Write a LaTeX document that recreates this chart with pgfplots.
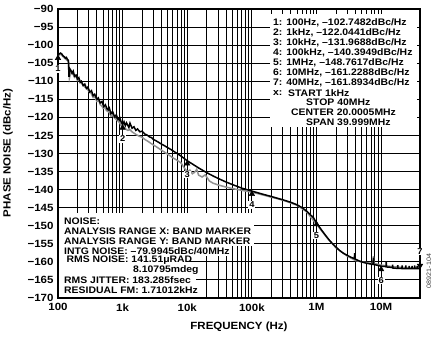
\documentclass[border=0pt]{standalone}
\usepackage{fontspec}
\setmainfont{Liberation Sans}[FakeStretch=1.1]
\usepackage{pgfplots}
\pgfplotsset{compat=1.18}
\definecolor{tracegray}{RGB}{145,145,145}
\newcommand\bx{\fontsize{9.5}{10}\selectfont\bfseries}
\begin{document}
\begin{tikzpicture}[x=1bp,y=1bp]
\useasboundingbox (0,0) rectangle (436,340);
\begin{axis}[
  at={(58bp,42bp)}, anchor=south west, scale only axis,
  width=362bp, height=289bp,
  xmode=log, xmin=100, xmax=4e7, ymin=-170, ymax=-90,
  xtick={100,1000,10000,100000,1000000,10000000},
  xticklabels={100,1k,10k,100k,1M,10M},
  ytick={-170,-165,-160,-155,-150,-145,-140,-135,-130,-125,-120,-115,-110,-105,-100,-95,-90},
  yticklabels={−170,−165,−160,−155,−150,−145,−140,−135,−130,−125,−120,−115,−110,−105,−100,−95,−90},
  grid=both,
  major grid style={black, line width=0.95bp},
  minor grid style={black, line width=0.85bp},
  tick style={draw=none},
  axis line style={black, line width=1.5bp},
  ticklabel style={font=\fontsize{10.5}{12}\selectfont\bfseries},
  yticklabel style={xshift=-1bp},
  xticklabel style={yshift=-2bp},
  clip=false,
]
% gray trace
\addplot[tracegray, line width=1.5bp] coordinates {
(100,-102.9) (110,-102.5) (120,-103.2) (130,-103.8) (145,-104.5) (150,-109.2) (160,-107.2)
(170,-108.0) (180,-108.9) (190,-108.4) (200,-109.8) (215,-109.6) (230,-110.6) (245,-110.9) (260,-111.6)
(280,-111.9) (300,-112.8) (320,-113.1) (350,-114.5) (370,-114.2) (400,-115.6) (430,-115.4) (450,-116.5)
(480,-116.9) (500,-117.5) (530,-117.2) (560,-118.1) (620,-118.6) (660,-119.7) (700,-119.4) (750,-120.2)
(800,-120.6) (850,-121.0) (900,-121.5) (950,-122.3) (1000,-122.9) (1100,-123.1) (1200,-123.6)
(1300,-123.4) (1400,-124.0) (1600,-124.7) (1800,-125.2) (2000,-125.5) (2200,-126.1) (2400,-126.5)
(2800,-127.3) (3300,-128.1) (4000,-129.1) (5000,-130.2) (6000,-131.2) (7000,-131.9) (8000,-132.6)
(9000,-134.0) (10000,-135.0) (11000,-134.6) (12000,-135.6) (13000,-135.2) (14000,-134.4) (15000,-136.0)
(17000,-136.5) (19000,-135.9) (22000,-137.6) (25000,-138.2) (30000,-138.7) (40000,-139.3) (50000,-139.7)
(70000,-140.2) (100000,-140.7) (150000,-141.5) (200000,-142.1) (300000,-142.9) (500000,-144.3)
(700000,-146.1) (1000000,-149.6) (1500000,-153.6) (2000000,-156.1) (3000000,-158.4) (4000000,-159.6)
(5000000,-160.0) (7000000,-160.4) (7500000,-160.4) (7600000,-158.4) (7750000,-160.4) (10000000,-160.9)
(15000000,-161.3) (20000000,-161.5) (30000000,-161.6) (40000000,-161.7)
};
% black trace
\addplot[black, line width=1.5bp] coordinates {
(100,-102.7) (105,-102.4) (110,-102.2) (115,-102.5) (120,-103.0) (125,-103.2) (130,-103.6) (135,-103.4)
(140,-104.0) (145,-104.2) (148,-108.8) (152,-106.5) (158,-107.0) (165,-107.8) (172,-107.2) (180,-108.6)
(190,-108.3) (200,-109.4) (210,-109.0) (220,-110.3) (230,-110.0) (245,-111.2) (260,-110.8) (275,-112.0)
(290,-111.6) (310,-113.0) (330,-112.6) (350,-114.0) (370,-113.6) (400,-115.0) (420,-114.6) (450,-116.0)
(480,-115.6) (510,-117.0) (540,-116.5) (580,-117.8) (620,-117.3) (660,-119.0) (700,-118.4) (750,-119.8)
(800,-119.3) (850,-120.6) (900,-120.0) (950,-121.3) (1000,-122.0) (1050,-121.2) (1100,-122.3)
(1150,-121.5) (1250,-122.8) (1300,-121.6) (1400,-123.0) (1500,-122.6) (1600,-123.6) (1700,-123.2)
(1850,-124.0) (2000,-123.8) (2200,-124.6) (2400,-124.9) (2600,-125.4) (2800,-125.6) (3000,-126.1)
(3300,-126.5) (3600,-126.9) (4000,-127.4) (4500,-127.9) (5000,-128.4) (5600,-128.9) (6300,-129.5)
(7000,-130.0) (8000,-130.7) (9000,-131.4) (10000,-132.0) (12000,-132.9) (15000,-134.0) (20000,-135.3)
(25000,-136.2) (30000,-136.9) (40000,-137.9) (50000,-138.6) (70000,-139.6) (100000,-140.4)
(150000,-141.3) (200000,-141.9) (300000,-142.8) (400000,-143.5) (500000,-144.2) (600000,-145.0)
(700000,-145.9) (800000,-146.9) (900000,-147.8) (1000000,-149.2) (1200000,-151.2) (1400000,-152.8)
(1600000,-154.1) (1800000,-155.1) (2000000,-155.9) (2300000,-156.9) (2600000,-157.6) (3000000,-158.2)
(3500000,-158.8) (3850000,-159.1) (3900000,-157.6) (3950000,-159.2) (4500000,-159.7) (5000000,-160.0)
(6000000,-160.4) (7000000,-160.6) (7500000,-160.7) (7600000,-158.8) (7700000,-160.7) (9000000,-161.0)
(10000000,-161.2) (11900000,-161.3) (12000000,-160.0) (12100000,-161.4) (14000000,-161.5)
(15000000,-161.6) (15100000,-160.8) (15200000,-161.7) (18000000,-161.8) (18100000,-160.9) (18200000,-161.8)
(21000000,-161.8) (21100000,-161.0) (21200000,-161.9) (24000000,-161.9) (24100000,-161.0) (24200000,-161.9)
(27000000,-161.9) (27100000,-161.1) (27200000,-161.9) (30000000,-161.9) (30100000,-161.1) (30200000,-161.9)
(33000000,-161.9) (33100000,-161.0) (33300000,-161.9) (36000000,-161.9) (36100000,-161.1) (36300000,-161.9)
(39000000,-161.9) (39100000,-161.0) (39300000,-161.9) (40000000,-161.9)
};
% markers 1-6
\addplot[only marks, mark=triangle*, mark size=3.2bp, black,
  mark options={yshift=-3bp},
  point meta=explicit symbolic, nodes near coords,
  nodes near coords style={anchor=center, yshift=-11bp, fill=white, inner sep=0.8bp,
    font=\fontsize{8.5}{9}\selectfont\bfseries, text=black}]
  coordinates {(100,-102.75)[1] (1000,-122.04)[2] (10000,-131.97)[3] (100000,-140.39)[4]
  (1000000,-148.76)[5] (10000000,-161.23)[6]};
% marker 7
\addplot[only marks, mark=triangle*, mark size=3.2bp, black,
  mark options={rotate=180, yshift=-3bp},
  point meta=explicit symbolic, nodes near coords,
  nodes near coords style={anchor=center, yshift=14bp, fill=white, inner sep=0.8bp,
    font=\fontsize{8.5}{9}\selectfont\bfseries, text=black}]
  coordinates {(40000000,-161.89)[7]};
\end{axis}
% top-right annotation box
\fill[white] (270,213) rectangle (417,326);
\begin{scope}[every node/.style={anchor=west, inner sep=0pt, font=\bx}]
\node at (273,340-22.7) {1: 100Hz, –102.7482dBc/Hz};
\node at (273,340-32.7) {2: 1kHz, –122.0441dBc/Hz};
\node at (273,340-42.7) {3: 10kHz, –131.9688dBc/Hz};
\node at (273,340-52.7) {4: 100kHz, –140.3949dBc/Hz};
\node at (273,340-62.7) {5: 1MHz, –148.7617dBc/Hz};
\node at (273,340-72.7) {6: 10MHz, –161.2288dBc/Hz};
\node at (273,340-82.7) {7: 40MHz, –161.8934dBc/Hz};
\node at (273,340-92.7) {x:};
\node at (288,340-92.7) {START 1kHz};
\node at (306,340-102.7) {STOP 40MHz};
\node at (291,340-112.7) {CENTER 20.0005MHz};
\node at (306,340-122.7) {SPAN 39.999MHz};
\end{scope}
% bottom-left annotation box
\fill[white] (59,43) rectangle (189,127);
\fill[white] (59,94) rectangle (254,127);
\fill[white] (59,84) rectangle (229,95);
\fill[white] (59,64) rectangle (199,75);
\fill[white] (59,54) rectangle (196,65);
\begin{scope}[every node/.style={anchor=west, inner sep=0pt, font=\bx}]
\node at (64,340-221) {NOISE:};
\node at (64,340-231) {ANALYSIS RANGE X: BAND MARKER};
\node at (64,340-240.8) {ANALYSIS RANGE Y: BAND MARKER};
\node at (64,340-250.7) {INTG NOISE: –79.9945dBc/40MHz};
\node at (66.5,340-260.6) {RMS NOISE: 141.51μRAD};
\node at (133,340-270.4) {8.10795mdeg};
\node at (64,340-280.3) {RMS JITTER: 183.285fsec};
\node at (64,340-290.1) {RESIDUAL FM: 1.71012kHz};
\end{scope}
% axis labels
\node[font=\fontsize{10.5}{12}\selectfont\bfseries] at (239,340-327) {FREQUENCY (Hz)};
\node[rotate=90, font=\fontsize{10.5}{12}\selectfont\bfseries] at (8,340-153) {PHASE NOISE (dBc/Hz)};
\node[rotate=90, font=\fontsize{6.5}{7}\selectfont, text=black!75] at (429,340-271) {08921-104};
\end{tikzpicture}
\end{document}
